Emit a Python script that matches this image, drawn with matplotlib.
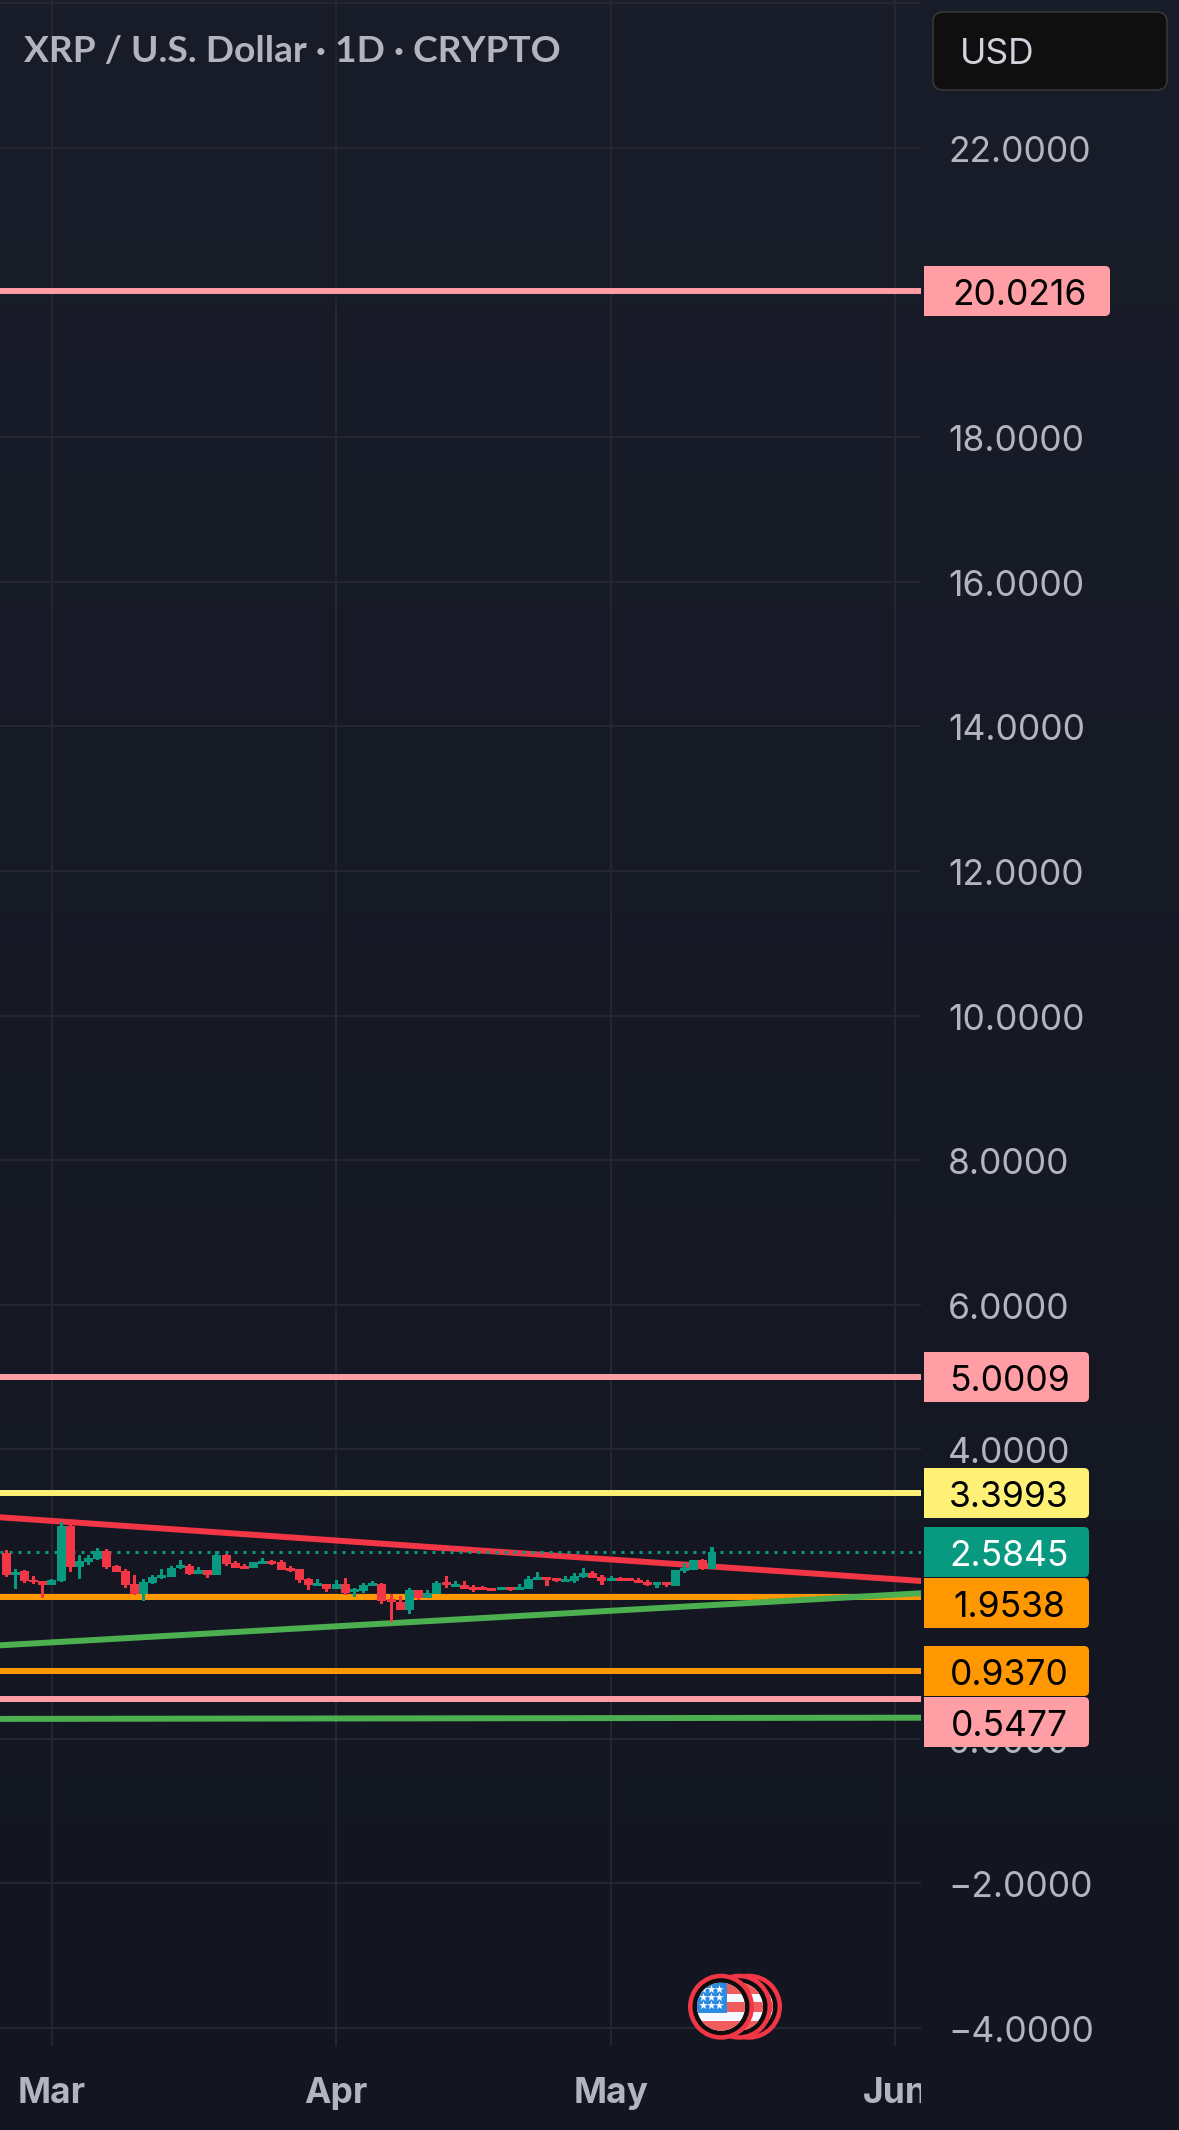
import numpy as np
import matplotlib
matplotlib.use("Agg")
import matplotlib.pyplot as plt
from matplotlib.colors import LinearSegmentedColormap
from matplotlib.patches import Circle, FancyBboxPatch, Rectangle
from matplotlib.transforms import Bbox, ScaledTranslation

# daily XRP/USD candles, day 0 is 1 March
first_day = -5
opens = [2.572, 2.263, 2.314, 2.199, 2.185, 2.125, 2.176, 2.936, 2.369, 2.439, 2.480, 2.591, 2.383,
         2.314, 2.134, 1.996, 2.148, 2.217, 2.231, 2.356, 2.383, 2.273, 2.328, 2.259, 2.535, 2.425,
         2.383, 2.356, 2.411, 2.452, 2.439, 2.356, 2.342, 2.203, 2.107, 2.134, 2.065, 2.134, 2.024,
         2.037, 2.107, 2.134, 1.927, 1.885, 1.775, 2.051, 1.941, 1.996, 2.162, 2.093, 2.120, 2.093,
         2.093, 2.079, 2.051, 2.093, 2.051, 2.065, 2.190, 2.231, 2.217, 2.162, 2.176, 2.231, 2.286,
         2.231, 2.176, 2.217, 2.217, 2.190, 2.162, 2.120, 2.162, 2.107, 2.314, 2.328, 2.466, 2.342]
highs = [2.604, 2.351, 2.328, 2.245, 2.185, 2.213, 2.992, 2.964, 2.535, 2.535, 2.632, 2.618, 2.397,
         2.342, 2.259, 2.203, 2.259, 2.342, 2.383, 2.466, 2.411, 2.369, 2.328, 2.591, 2.549, 2.452,
         2.411, 2.439, 2.494, 2.466, 2.466, 2.383, 2.342, 2.217, 2.203, 2.134, 2.190, 2.217, 2.079,
         2.148, 2.176, 2.148, 1.996, 1.968, 2.079, 2.051, 2.051, 2.176, 2.245, 2.176, 2.176, 2.120,
         2.107, 2.079, 2.093, 2.093, 2.134, 2.245, 2.300, 2.231, 2.217, 2.245, 2.286, 2.356, 2.314,
         2.259, 2.245, 2.231, 2.217, 2.217, 2.190, 2.162, 2.162, 2.328, 2.425, 2.466, 2.480, 2.646]
lows = [2.231, 2.070, 2.148, 2.134, 1.941, 2.120, 2.171, 2.300, 2.203, 2.397, 2.466, 2.342, 2.300,
        2.079, 1.982, 1.899, 2.134, 2.203, 2.231, 2.342, 2.259, 2.273, 2.217, 2.259, 2.383, 2.356,
        2.342, 2.356, 2.411, 2.397, 2.328, 2.300, 2.148, 2.051, 2.107, 2.024, 2.065, 1.982, 1.954,
        2.010, 2.107, 1.858, 1.609, 1.775, 1.719, 1.913, 1.941, 1.996, 2.079, 2.093, 2.065, 2.024,
        2.051, 2.037, 2.051, 2.037, 2.051, 2.065, 2.190, 2.107, 2.162, 2.162, 2.148, 2.217, 2.217,
        2.120, 2.176, 2.176, 2.176, 2.148, 2.107, 2.079, 2.093, 2.107, 2.286, 2.328, 2.328, 2.342]
closes = [2.263, 2.309, 2.176, 2.171, 2.125, 2.190, 2.936, 2.369, 2.452, 2.494, 2.591, 2.369, 2.300,
          2.120, 1.996, 2.162, 2.231, 2.259, 2.356, 2.397, 2.273, 2.328, 2.259, 2.535, 2.411, 2.356,
          2.342, 2.439, 2.452, 2.411, 2.328, 2.314, 2.190, 2.120, 2.148, 2.065, 2.134, 2.010, 2.065,
          2.120, 2.148, 1.899, 1.885, 1.775, 2.051, 1.941, 2.010, 2.148, 2.120, 2.134, 2.065, 2.051,
          2.051, 2.037, 2.093, 2.051, 2.093, 2.203, 2.231, 2.190, 2.176, 2.203, 2.245, 2.286, 2.217,
          2.176, 2.217, 2.176, 2.176, 2.148, 2.120, 2.162, 2.120, 2.328, 2.356, 2.466, 2.342, 2.5845]

# horizontal levels and their colours
level_values = [20.0216, 5.0009, 3.3993, 1.9538, 0.9370, 0.5477]
level_colors = ["#ff9ea5", "#ff9ea5", "#fff176", "#ff9800", "#ff9800", "#ff9ea5"]
last_price = 2.5845

# sloped trend lines: start and end (day, price)
trend_days = [-5.67, 94.8]
red_trend = [3.061, 2.180]
green_trend = [1.290, 2.010]
lower_green = [0.272, 0.289]

# axis ticks, the 2, 20 and 24 labels sit behind tags or off the top
price_ticks = [-4, -2, 0, 2, 4, 6, 8, 10, 12, 14, 16, 18, 20, 22, 24]
unlabelled_ticks = [2, 20, 24]
month_days = [0, 31, 61, 92]
month_names = ["Mar", "Apr", "May", "Jun"]

W, H = 1179, 2130
GRID = "#24272f"
TICK = "#b2b5be"
UP = "#089981"
DOWN = "#f23645"
FONT = "Inter"
SIZE = 25.5

fig = plt.figure(figsize=(W / 100, H / 100), dpi=100)

# page background, slightly lighter towards the top
bg = fig.add_axes([0, 0, 1, 1], zorder=0)
bg.imshow(np.linspace(0, 1, 256).reshape(-1, 1), aspect="auto",
          cmap=LinearSegmentedColormap.from_list("page", ["#191d29", "#131620"]))
bg.axis("off")

# price pane, 921 px wide and ending 84 px above the bottom
ax = fig.add_axes([0, 84 / H, 921 / W, 2046 / H], zorder=1)
ax.patch.set_alpha(0)
ax.set_xlim(-5.67, 94.8)
ax.set_ylim(-4.252, 24.047)
for side in ax.spines.values():
    side.set_visible(False)

ax.set_yticks(price_ticks)
ax.set_yticklabels(["" if p in unlabelled_ticks else f"{p:.4f}".replace("-", "\u2212") for p in price_ticks])
ax.yaxis.tick_right()
ax.tick_params(axis="y", length=0, pad=19.4, labelsize=SIZE, labelcolor=TICK)
ax.set_xticks(month_days)
ax.set_xticklabels(month_names)
ax.tick_params(axis="x", length=0, pad=22.2, labelsize=SIZE)
ax.grid(True, color=GRID, linewidth=1.5)
ax.set_axisbelow(True)
nudge_down = ScaledTranslation(0, -1 / 100, fig.dpi_scale_trans)
for label in ax.get_yticklabels():
    label.set_family(FONT)
    label.set_transform(label.get_transform() + nudge_down)
for label in ax.get_xticklabels():
    label.set_family(FONT)
    label.set_fontweight("bold")
    label.set_color(TICK)
    # the month labels stop where the price scale starts
    label.set_clip_box(Bbox([[0, 0], [921, H]]))
    label.set_clip_on(True)

# levels and trend lines sit under the candles
for value, color in zip(level_values, level_colors):
    ax.axhline(value, color=color, linewidth=4.3, zorder=2, solid_capstyle="butt")
ax.plot(trend_days, red_trend, color=DOWN, linewidth=4.3, zorder=2)
ax.plot(trend_days, green_trend, color="#4caf50", linewidth=4.3, zorder=2)
ax.plot(trend_days, lower_green, color="#4caf50", linewidth=4.3, zorder=2)
ax.axhline(last_price, color=UP, linewidth=2.16, linestyle=(0, (1, 2)),
           dash_capstyle="butt", zorder=2)

days = first_day + np.arange(len(opens))
o, h, l, c = map(np.array, (opens, highs, lows, closes))
colors = [UP if b >= a else DOWN for a, b in zip(o, c)]
ax.bar(days, h - l, bottom=l, width=0.33, color=colors, linewidth=0, zorder=3)
ax.bar(days, np.abs(c - o), bottom=np.minimum(o, c), width=0.98, color=colors, linewidth=0, zorder=3)

# overlay in pixel units for the price tags, legend text and event marker
over = fig.add_axes([0, 0, 1, 1], zorder=2)
over.set_xlim(0, W)
over.set_ylim(H, 0)
over.axis("off")


def price_y(value):
    return H - ax.transData.transform((0, value))[1]


def price_tag(value, color, text_color="black", shift=0):
    # square on the left, rounded on the right, wider for two leading digits
    text = f"{value:.4f}"
    right = 1110 if value >= 10 else 1089
    y = round(price_y(value) + shift)
    over.add_patch(FancyBboxPatch((930, y - 20), right - 935, 40, boxstyle="round,pad=5,rounding_size=5",
                                  facecolor=color, edgecolor="none", snap=False))
    over.add_patch(Rectangle((924, y - 25), 20, 50, facecolor=color, edgecolor="none", snap=False))
    over.text(1020 if value >= 10 else 1009, y + 1, text, color=text_color, family=FONT, fontsize=SIZE,
              va="center_baseline", ha="center")


tag_shifts = [0, 0, 0, 6, 0, 23.5]
price_tag(last_price, UP, "white")
for value, color, shift in zip(level_values, level_colors, tag_shifts):
    price_tag(value, color, shift=shift)

# currency button
over.add_patch(FancyBboxPatch((943, 22), 214, 58, boxstyle="round,pad=10,rounding_size=10",
                              facecolor="#0f0f0f", edgecolor="#363636", linewidth=1.2))
over.text(960, 51, "USD", color="#d1d4dc", family=FONT, fontsize=SIZE, va="center_baseline", ha="left")

over.text(24, 51, "XRP / U.S. Dollar \u00b7 1D \u00b7 CRYPTO", color=TICK,
          family="Lato", fontweight="bold", fontsize=26.7, va="center", ha="left")


def flag_marker(cx, cy):
    # stacked economic event badge with a round US flag
    over.add_patch(Circle((cx, cy), 33, facecolor=DOWN, edgecolor="none"))
    over.add_patch(Circle((cx, cy), 28.5, facecolor="#0d0d0d", edgecolor="none"))
    disc = Circle((cx, cy), 24, facecolor="#f5f8ff", edgecolor="none")
    over.add_patch(disc)
    for top, height in ((-24, 11), (-5, 10), (14, 11)):
        bar = Rectangle((cx - 24, cy + top), 48, height, facecolor="#f15b5b", edgecolor="none")
        over.add_patch(bar)
        bar.set_clip_path(disc)
    canton = Rectangle((cx - 24, cy - 24), 29.7, 30, facecolor="#2a8be0", edgecolor="none")
    over.add_patch(canton)
    canton.set_clip_path(disc)
    xs, ys = np.meshgrid([cx - 18, cx - 10, cx - 2], [cy - 17.3, cy - 9.3, cy - 1.3])
    stars = over.scatter(xs.ravel(), ys.ravel(), marker="*", s=42, color="#f5f8ff", linewidths=0)
    stars.set_clip_path(disc)


for cx in (749, 739, 721):
    flag_marker(cx, 2006.7)

fig.savefig("out.png", dpi=100)
